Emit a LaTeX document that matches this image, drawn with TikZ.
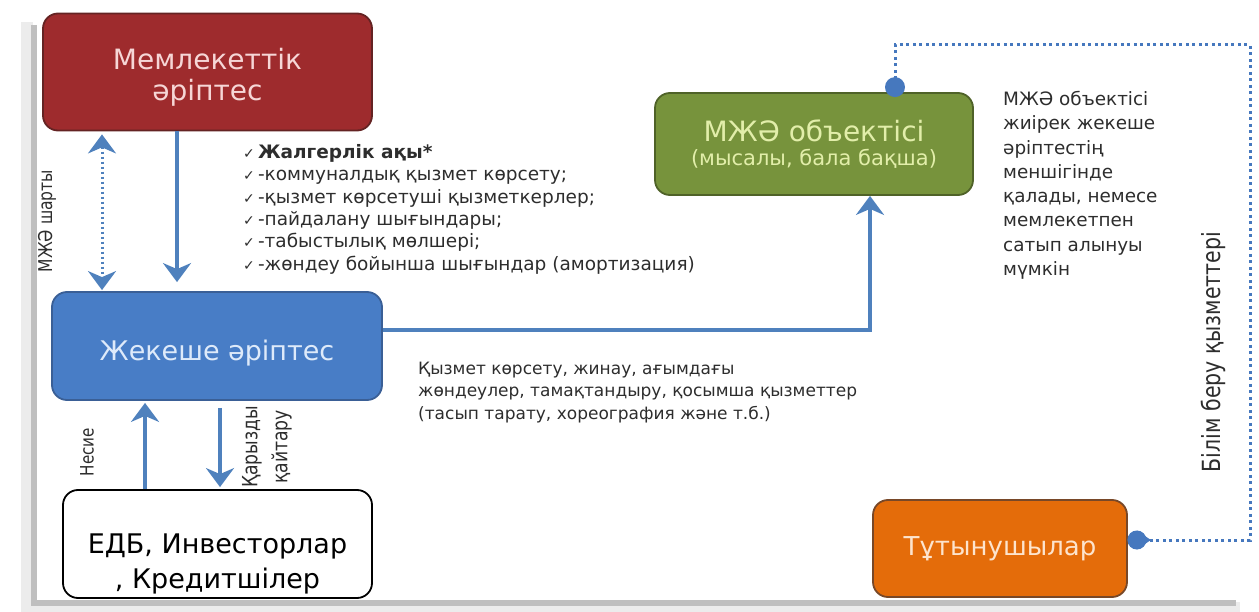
\documentclass[tikz,border=0pt]{standalone}
\usepackage{fontspec}
\setmainfont{DejaVu Sans}
\newfontfamily\narrowfont[FakeStretch=0.82]{DejaVu Sans}
\usetikzlibrary{arrows.meta}
\usetikzlibrary{calc}

\definecolor{memred}{RGB}{158,43,45}
\definecolor{memline}{RGB}{100,35,35}
\definecolor{memtext}{RGB}{246,214,214}
\definecolor{zheblue}{RGB}{72,125,198}
\definecolor{zheline}{RGB}{58,95,150}
\definecolor{zhetext}{RGB}{222,234,250}
\definecolor{objgreen}{RGB}{119,147,60}
\definecolor{objline}{RGB}{79,98,40}
\definecolor{objtext}{RGB}{226,238,170}
\definecolor{consorange}{RGB}{228,108,10}
\definecolor{consline}{RGB}{120,72,40}
\definecolor{constext}{RGB}{253,228,205}
\definecolor{flowblue}{RGB}{79,129,189}
\definecolor{dotblue}{RGB}{70,120,190}
\definecolor{notegray}{RGB}{45,45,45}

\newcommand\costtick{{\fontsize{14}{14}\selectfont ✓}}

\begin{document}
\begin{tikzpicture}[x=1pt,y=-1pt,
  >={Stealth[length=19pt,width=28pt,inset=6pt]},
  partbox/.style={draw,rounded corners=15pt,line width=1.8pt,align=center,inner sep=0pt},
  flow/.style={draw=flowblue,line width=4pt},
  pppflow/.style={draw=flowblue,line width=3pt,dash pattern=on 2.5pt off 2.5pt},
  svcline/.style={draw=dotblue,line width=3pt,dash pattern=on 3pt off 3.5pt},
  notetext/.style={text=notegray,align=left,inner sep=0pt,font=\fontsize{17}{22.4}\selectfont},
  sidelabel/.style={rotate=90,text=notegray,align=center,inner sep=0pt}
]
	\useasboundingbox (0,0) rectangle (1259,612);

	% slide shadow
	\draw[line width=12pt,gray!15] (27,22) -- (27,608) -- (1240,608);
	\draw[line width=6pt,gray!50] (34,25) -- (34,603) -- (1236,603);

	\node[partbox,fill=memred,draw=memline,text=memtext,minimum width=329pt,minimum height=117pt,font=\fontsize{28}{34}\selectfont] (mem) at (207.5,72) {\raisebox{-5pt}[\height][\depth]{\shortstack{Мемлекеттік\\[6pt]әріптес}}};
	\node[partbox,fill=zheblue,draw=zheline,text=zhetext,minimum width=330pt,minimum height=108pt,font=\fontsize{27}{33}\selectfont] (zhe) at (217,346) {\raisebox{-7pt}[\height][\depth]{Жекеше әріптес}};
	\node[partbox,fill=objgreen,draw=objline,text=objtext,minimum width=318pt,minimum height=102pt] (obj) at (814,144) {{\fontsize{28}{30}\selectfont МЖӘ объектісі}\\[6pt]{\fontsize{21}{24}\selectfont (мысалы, бала бақша)}};
	\node[partbox,fill=white,draw=black,text=black,minimum width=309pt,minimum height=108pt,font=\fontsize{27}{36}\selectfont] (edb) at (217.5,544) {\raisebox{-20pt}[\height][\depth]{\shortstack{ЕДБ, Инвесторлар\\[5pt], Кредитшілер}}};
	\node[partbox,fill=consorange,draw=consline,text=constext,minimum width=254pt,minimum height=97pt,font=\fontsize{26}{30}\selectfont] (cons) at (1000,548.5) {Тұтынушылар};

	\coordinate (ppp) at (102,0);
	\coordinate (rent) at (177,0);
	\coordinate (loan) at (145,0);
	\coordinate (repay) at (220,0);
	\coordinate (turn) at (870,330);
	\coordinate (svctop) at (895,45);
	\coordinate (svcbot) at (1250,540);

	\draw[pppflow,<->,shorten <=3pt,shorten >=1pt] (mem.south -| ppp) -- (zhe.north -| ppp);
	\draw[flow,->,shorten >=9pt] (mem.south -| rent) -- (zhe.north -| rent);
	\draw[flow,->] (zhe.east |- turn) -- (turn) -- (obj.south -| turn);
	\draw[flow,->,shorten >=2pt] (edb.north -| loan) -- (zhe.south -| loan);
	\draw[flow,->,shorten <=7pt,shorten >=2pt] (zhe.south -| repay) -- (edb.north -| repay);

	\draw[svcline] (obj.north -| svctop) -- (svctop) -- (svctop -| svcbot) -- (svcbot) -- (cons.east |- svcbot);
	\fill[dotblue] ($(obj.north -| svctop)+(0,-5)$) circle (10pt);
	\coordinate (tip) at (cons.east |- svcbot);
	\fill[dotblue] ($(tip)+(9,0)$) circle (9.5pt);
	\fill[dotblue] ($(tip)+(9,-9.5)$) -- ($(tip)+(23,0)$) -- ($(tip)+(9,9.5)$) -- cycle;

	\node[sidelabel,font=\narrowfont\fontsize{19}{20}\selectfont] (ppplabel) at (47,221) {МЖӘ шарты};
	\node[sidelabel,font=\narrowfont\fontsize{18.5}{20}\selectfont] (loanlabel) at (87,452) {Несие};
	\node[sidelabel,font=\narrowfont\fontsize{21}{30}\selectfont] (repaylabel) at (267,447) {Қарызды\\қайтару};
	\node[sidelabel,font=\narrowfont\fontsize{25}{26}\selectfont] (svclabel) at (1213,352) {Білім беру қызметтері};

	\node[notetext,anchor=north west,font=\fontsize{18.5}{22.4}\selectfont] (costs) at (243,144) {\costtick\,\textbf{Жалгерлік ақы*}\\\costtick\,-коммуналдық қызмет көрсету;\\\costtick\,-қызмет көрсетуші қызметкерлер;\\\costtick\,-пайдалану шығындары;\\\costtick\,-табыстылық мөлшері;\\\costtick\,-жөндеу бойынша шығындар (амортизация)};
	\node[notetext,anchor=north west] (servnote) at (418,362) {Қызмет көрсету, жинау, ағымдағы\\жөндеулер, тамақтандыру, қосымша қызметтер\\(тасып тарату, хореография және т.б.)};
	\node[notetext,anchor=north west,font=\fontsize{18.4}{24.3}\selectfont] (ownnote) at (1003,91) {МЖӘ объектісі\\жиірек жекеше\\әріптестің\\меншігінде\\қалады, немесе\\мемлекетпен\\сатып алынуы\\мүмкін};
\end{tikzpicture}
\end{document}
